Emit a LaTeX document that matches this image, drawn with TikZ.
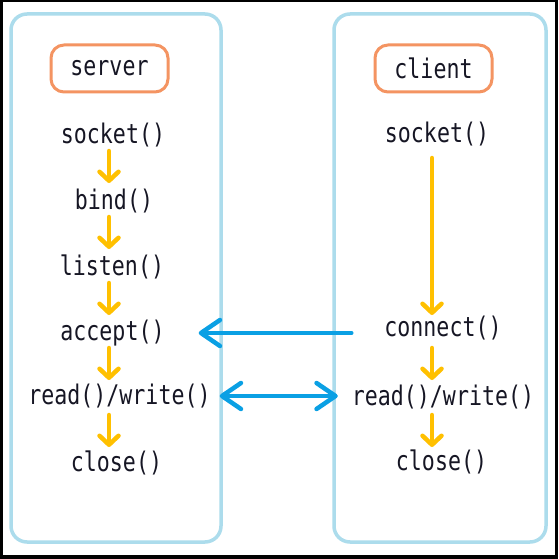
\documentclass[tikz,border=0pt]{standalone}
\usepackage{fontspec}
\usetikzlibrary{arrows.meta}
\newfontfamily\fnfont[FakeStretch=0.8]{DejaVu Sans Mono}
\definecolor{lanecol}{RGB}{172,220,236}
\definecolor{labcol}{RGB}{244,148,98}
\definecolor{flowcol}{RGB}{255,192,0}
\definecolor{linkcol}{RGB}{10,160,228}
\definecolor{inkcol}{RGB}{22,22,36}
\tikzset{
  lane/.style={draw=lanecol, line width=3.5pt, rounded corners=16pt, fill=white},
  lab/.style={draw=labcol, line width=3pt, rounded corners=13pt, minimum width=117pt, minimum height=47pt, inner sep=0pt, font=\fnfont\fontsize{27}{32}\selectfont, text=inkcol},
  fn/.style={inner sep=0pt, font=\fnfont\fontsize{27}{32}\selectfont, text=inkcol},
  flow/.style={draw=flowcol, line width=4.5pt, line cap=round, -{Straight Barb[round, length=9pt, width=19pt]}},
  link/.style={draw=linkcol, line width=4.5pt, line cap=round, -{Straight Barb[round, length=19pt, width=26pt]}},
  dlink/.style={draw=linkcol, line width=4.5pt, line cap=round, {Straight Barb[round, length=19pt, width=26pt]}-{Straight Barb[round, length=19pt, width=26pt]}}
}
\begin{document}
\begin{tikzpicture}[x=1pt, y=-1pt]
\useasboundingbox (0,0) rectangle (558,559);
\fill[black] (0,0) rectangle (558,559);
\fill[white] (3,2.5) rectangle (555,554.5);
% lanes
\node[lane, minimum width=210pt, minimum height=528pt] (serverlane) at (116,278) {};
\node[lane, minimum width=212pt, minimum height=528pt] (clientlane) at (440,278) {};
% labels
\node[lab] (serverlab) at (109.5,68.5) {server};
\node[lab] (clientlab) at (433.5,68.5) {client};
% server column
\node[fn] (ssocket) at (113,135) {socket()};
\node[fn] (sbind) at (114,201) {bind()};
\node[fn] (slisten) at (112,267) {listen()};
\node[fn] (saccept) at (112.5,333) {accept()};
\node[fn] (srw) at (119.5,396) {read()/write()};
\node[fn] (sclose) at (116.5,463) {close()};
% client column
\node[fn] (csocket) at (437,134) {socket()};
\node[fn] (cconnect) at (443,328) {connect()};
\node[fn] (crw) at (443,397) {read()/write()};
\node[fn] (cclose) at (441.5,462) {close()};
% column x coordinates
\coordinate (sx) at (109,0);
\coordinate (cx) at (432,0);
% server flow
\draw[flow, shorten <=16pt, shorten >=18pt] (ssocket.center -| sx) -- (sbind.center -| sx);
\draw[flow, shorten <=16pt, shorten >=18pt] (sbind.center -| sx) -- (slisten.center -| sx);
\draw[flow, shorten <=16pt, shorten >=18pt] (slisten.center -| sx) -- (saccept.center -| sx);
\draw[flow, shorten <=15pt, shorten >=16pt] (saccept.center -| sx) -- (srw.center -| sx);
\draw[flow, shorten <=19pt, shorten >=16pt] (srw.center -| sx) -- (sclose.center -| sx);
% client flow
\draw[flow, shorten <=24pt, shorten >=13pt] (csocket.center -| cx) -- (cconnect.center -| cx);
\draw[flow, shorten <=20pt, shorten >=17pt] (cconnect.center -| cx) -- (crw.center -| cx);
\draw[flow, shorten <=18pt, shorten >=15pt] (crw.center -| cx) -- (cclose.center -| cx);
% links
\draw[link, shorten <=33pt, shorten >=34pt] (saccept.east -| cconnect.west) -- (saccept.east);
\draw[dlink, shorten <=9pt, shorten >=14pt] (srw.east) -- (srw.east -| crw.west);
\end{tikzpicture}
\end{document}
